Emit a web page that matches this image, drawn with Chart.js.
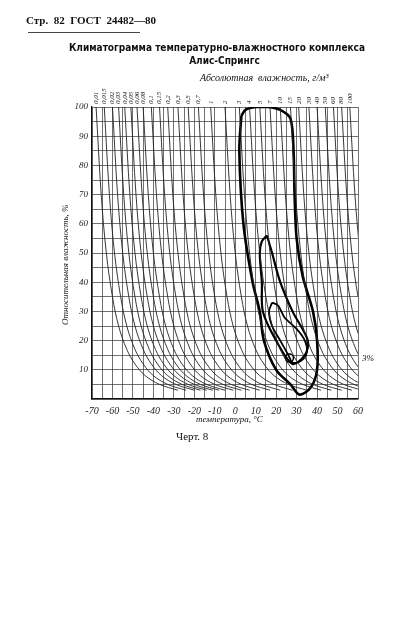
<!DOCTYPE html>
<html>
<head>
<meta charset="utf-8">
<script src="https://cdn.jsdelivr.net/npm/chart.js@4.4.0/dist/chart.umd.min.js"></script>
<style>
  body { margin: 0; background: #fff; width: 414px; height: 622px; overflow: hidden; position: relative; font-family: "DejaVu Sans Condensed", "DejaVu Sans", sans-serif; color: #111; }
  #wrap { position: absolute; left: 0; top: 0; width: 414px; height: 622px; }
  .t { position: absolute; white-space: nowrap; }
  .it { font-family: "Liberation Serif", serif; font-style: italic; }
</style>
</head>
<body>
<div id="wrap"><canvas id="c" width="414" height="622"></canvas></div>
<div class="t" style="left:26px;top:14px;font:bold 11px 'Liberation Serif',serif;">Стр. &nbsp;82 &nbsp;ГОСТ &nbsp;24482—80</div>
<div style="position:absolute;left:28px;top:32px;width:112px;border-top:1.5px solid #444;"></div>
<div class="t" style="left:0;width:414px;text-align:center;top:42px;font-weight:bold;font-size:10px;padding-left:20px;box-sizing:border-box;">Климатограмма температурно-влажностного комплекса</div>
<div class="t" style="left:0;width:414px;text-align:center;top:55px;font-weight:bold;font-size:10px;padding-left:35px;box-sizing:border-box;">Алис-Спрингс</div>
<div class="t it" style="left:200px;top:72px;font-size:10px;">Абсолютная &nbsp;влажность, г/м³</div>
<div class="t it" style="left:60px;top:325px;font-size:9px;transform:rotate(-90deg);transform-origin:left top;">Относительная влажность, %</div>
<div class="t it" style="left:196px;top:414px;font-size:9px;">температура, °С</div>
<div class="t" style="left:176px;top:430px;font-size:11px;font-family:'Liberation Serif',serif;">Черт. 8</div>
<div class="t it" style="left:362px;top:353px;font-size:9px;">3%</div>
<script>
// absolute humidity isolines: temperature where each line meets 100 %, and its label
const isoStart = [-68, -64, -60, -57, -54, -51, -48, -45, -41, -37, -33, -28, -23, -18, -12, -5, 2, 7, 12, 17, 22, 27, 31, 36, 40, 44, 48, 52, 56];
const isoLabels = ['0,01','0,015','0,02','0,03','0,04','0,05','0,06','0,08','0,1','0,15','0,2','0,3','0,5','0,7','1','2','3','4','5','7','10','15','20','30','40','50','60','80','100'];
// shape of one isoline: temperature offset vs relative humidity
const shapeRH = [100, 70, 50, 35, 25, 17, 12, 8, 5, 3];
const shapeDT = [0, 2.5, 5, 8, 11, 15, 19, 24, 31, 40];

// thick contours (temperature, relative humidity)
const outerT = [3, 5, 10, 16, 22, 27, 28.5, 29, 30, 33, 38, 40, 40, 37, 31.5, 27, 20, 14, 12, 8.5, 4, 2, 3];
const outerRH = [97, 99, 100, 100, 99, 96, 85, 70, 55, 42, 30, 20, 10, 4, 1.5, 5, 10, 20, 30, 40, 60, 85, 97];
const middleT = [15.5, 18, 22, 28, 35.5, 34, 28, 20, 13.5, 13, 12, 13, 15.5];
const middleRH = [56, 50, 40, 30, 20, 15, 12, 20, 30, 40, 50, 54, 56];
const innerT = [18, 21, 24, 30, 34, 35, 32, 28, 26, 22, 18, 16.5, 18];
const innerRH = [33, 32, 28, 24, 20, 16, 13, 12.5, 15, 20, 25, 30, 33];
const pointT = [26.5];
const pointRH = [14];

const pts = (xs, ys) => xs.map((x, i) => ({ x: x, y: ys[i] }));

const datasets = [];
isoStart.forEach(t0 => {
  datasets.push({
    data: pts(shapeDT.map(d => t0 + d), shapeRH),
    borderColor: '#222', borderWidth: 0.9, pointRadius: 0, showLine: true, tension: 0.35, fill: false
  });
});
[[outerT, outerRH, 2.6], [middleT, middleRH, 2.2], [innerT, innerRH, 1.8]].forEach(c => {
  datasets.push({
    data: pts(c[0], c[1]), borderColor: '#000', borderWidth: c[2], pointRadius: 0,
    showLine: true, tension: 0.3, fill: false
  });
});
datasets.push({ data: pts(pointT, pointRH), borderColor: '#000', backgroundColor: '#fff', borderWidth: 1.5, pointRadius: 4, showLine: false });

// labels of the isolines along the top edge
const isoLabelPlugin = {
  id: 'isoLabels',
  afterDraw(chart) {
    const ctx = chart.ctx, xs = chart.scales.x, ys = chart.scales.y;
    ctx.save();
    ctx.font = 'italic 7px "Liberation Serif", serif';
    ctx.fillStyle = '#222';
    ctx.textAlign = 'left';
    ctx.textBaseline = 'middle';
    isoStart.forEach((t, i) => {
      const px = xs.getPixelForValue(t), py = ys.getPixelForValue(100) - 3;
      ctx.save();
      ctx.translate(px, py);
      ctx.rotate(-Math.PI / 2);
      ctx.fillText(isoLabels[i], 0, 0);
      ctx.restore();
    });
    ctx.restore();
  }
};

new Chart(document.getElementById('c'), {
  type: 'scatter',
  data: { datasets: datasets },
  options: {
    responsive: false,
    animation: false,
    clip: true,
    layout: { padding: { left: 0, top: 107, right: 56, bottom: 193 } },
    plugins: { legend: { display: false }, tooltip: { enabled: false } },
    scales: {
      x: {
        type: 'linear', min: -70, max: 60,
        afterFit: s => { s.height = 30; },
        grid: { color: '#333', lineWidth: 0.7, drawTicks: false },
        border: { color: '#111', width: 1.2 },
        ticks: {
          stepSize: 5, autoSkip: false, maxRotation: 0, padding: 6, color: '#222',
          font: { family: 'Liberation Serif', style: 'italic', size: 10 },
          callback: v => (v % 10 === 0 ? String(v) : '')
        }
      },
      y: {
        type: 'linear', min: 0, max: 100,
        afterFit: s => { s.width = 92; },
        grid: { color: '#333', lineWidth: 0.7, drawTicks: false },
        border: { color: '#111', width: 1.2 },
        ticks: {
          stepSize: 5, autoSkip: false, padding: 4, color: '#222',
          font: { family: 'Liberation Serif', style: 'italic', size: 9 },
          callback: v => (v % 10 === 0 && v > 0 ? String(v) : '')
        }
      }
    }
  },
  plugins: [isoLabelPlugin]
});
</script>
</body>
</html>
